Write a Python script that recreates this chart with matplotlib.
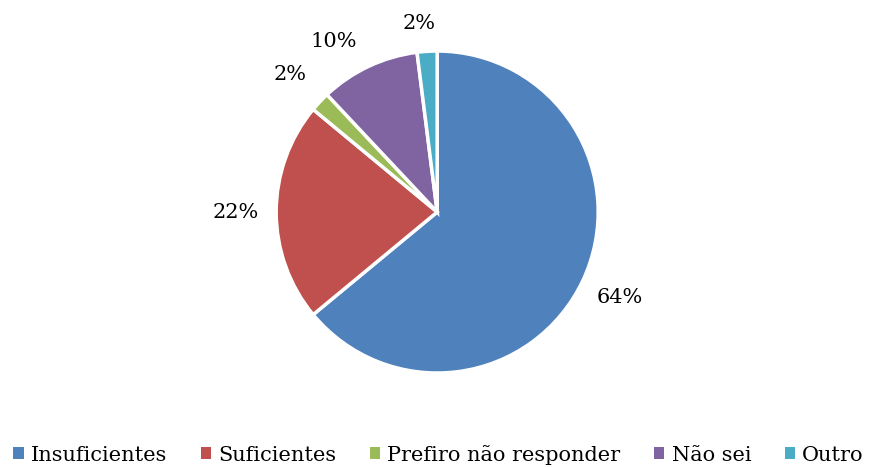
import matplotlib
matplotlib.use("Agg")
import matplotlib.pyplot as plt
from matplotlib.patches import Patch

categories = ["Insuficientes", "Suficientes", "Prefiro não responder", "Não sei", "Outro"]
values = [64, 22, 2, 10, 2]
colors = ["#4F81BD", "#C0504D", "#9BBB59", "#8064A2", "#4BACC6"]

plt.rcParams['font.family'] = ['DejaVu Serif']

fig = plt.figure(figsize=(8.77, 4.67), dpi=100)
ax = fig.add_axes([0.2415, 0.063, 0.514, 0.966])

wedges, texts, autotexts = ax.pie(values, colors=colors, startangle=90, counterclock=False,
                                  autopct="%1.0f%%", pctdistance=1.25,
                                  wedgeprops=dict(edgecolor="white", linewidth=2.5),
                                  textprops=dict(fontsize=15, color="black"))
# Excel nudges the crowded small labels a little
autotexts[3].set_position((-0.64, 1.06))
autotexts[4].set_position((-0.11, 1.17))

ax.set_xlim(-1.4, 1.4)
ax.set_ylim(-1.4, 1.4)
ax.set_aspect("equal")
ax.axis("off")

handles = [Patch(facecolor=c, edgecolor="none") for c in colors]
fig.legend(handles, categories, loc="lower center", bbox_to_anchor=(0.5, -0.035), ncol=5,
           frameon=False, fontsize=15, handlelength=0.5, handleheight=0.5,
           handletextpad=0.35, columnspacing=1.6)

fig.savefig("out.png", dpi=100)
